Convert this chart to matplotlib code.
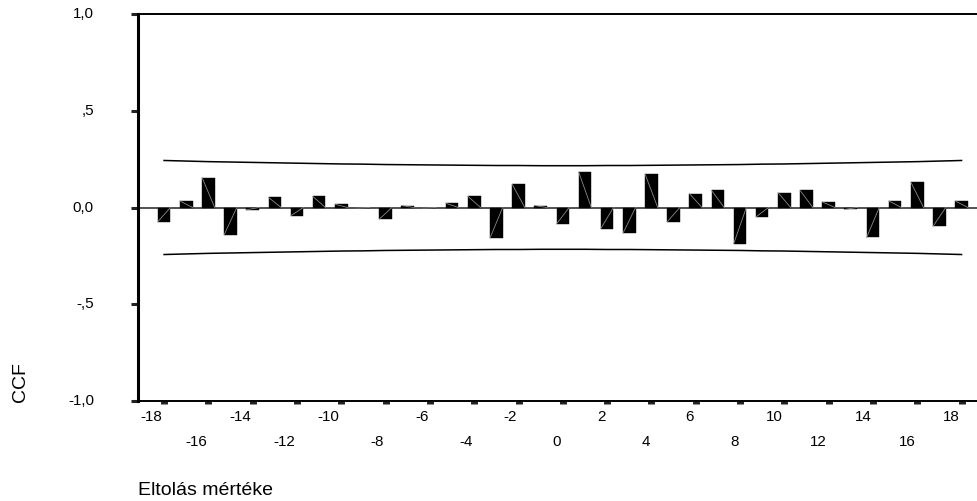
import matplotlib
matplotlib.use("Agg")
import matplotlib.pyplot as plt
import numpy as np

plt.rcParams['font.family'] = ['Liberation Sans', 'DejaVu Sans']

lags = list(range(-18, 19))
ccf = [-0.074, 0.034, 0.155, -0.140, -0.012, 0.052, -0.043, 0.057, 0.017, -0.003,
       -0.060, 0.010, -0.003, 0.022, 0.058, -0.157, 0.120, 0.010, -0.085, 0.184,
       -0.109, -0.133, 0.172, -0.073, 0.072, 0.088, -0.187, -0.049, 0.077, 0.088,
       0.029, -0.010, -0.155, 0.034, 0.130, -0.097, 0.034]
upper = [0.243, 0.240, 0.237, 0.235, 0.233, 0.231, 0.229, 0.227, 0.225, 0.224,
         0.222, 0.221, 0.220, 0.219, 0.218, 0.217, 0.217, 0.216, 0.216, 0.216,
         0.217, 0.217, 0.218, 0.219, 0.220, 0.221, 0.222, 0.224, 0.225, 0.227,
         0.229, 0.231, 0.233, 0.235, 0.237, 0.240, 0.243]
lower = [-u for u in upper]
xtick_vals = list(range(-18, 19, 2))
ytick_vals = [-1.0, -0.5, 0.0, 0.5, 1.0]
ytick_labels = ['-1,0', '-,5', '0,0', ',5', '1,0']

W, H = 978, 501
fig = plt.figure(figsize=(W / 100, H / 100), dpi=100)
ax = fig.add_axes([137.5 / W, 1 - 401 / H, (977.5 - 137.5) / W, (401 - 14) / H])

bw = 0.57
ax.bar(lags, ccf, width=bw, color='black', edgecolor='black', linewidth=0.3, zorder=3)
for x, v in zip(lags, ccf):
    ax.plot([x - bw / 2, x + bw / 2], [v, 0], color='#8a8a8a', lw=0.6, zorder=4)

ax.axhline(0, color='#444444', lw=1.3, zorder=2)
ax.plot(lags, upper, color='black', lw=1.1, zorder=3)
ax.plot(lags, lower, color='black', lw=1.1, zorder=3)

ax.set_xlim(-19.2, 18.72)
ax.set_ylim(-1, 1)

ax.spines['right'].set_visible(False)
ax.spines['left'].set_linewidth(2.2)
ax.spines['top'].set_linewidth(1.4)
ax.spines['bottom'].set_linewidth(1.4)

ax.set_xticks(xtick_vals)
ax.set_xticklabels([])
ax.tick_params(axis='x', direction='out', length=2.2, width=5, color='#222222')
ax.set_yticks(ytick_vals)
ax.set_yticklabels([])
ax.tick_params(axis='y', direction='out', length=5, width=2.2, color='#222222')

fs = 10.9
for i, v in enumerate(xtick_vals):
    ypix = 417 if i % 2 == 0 else 442
    fig.text((v + 18) * 22.15 / W + 162.5 / W, 1 - ypix / H, str(v), ha='right', va='center', fontsize=fs)

for v, lab in zip(ytick_vals, ytick_labels):
    ypix = 207.5 - v * 193.5
    fig.text(94 / W, 1 - ypix / H, lab, ha='right', va='center', fontsize=fs)

fig.text(21 / W, 1 - 382 / H, 'CCF', rotation=90, ha='center', va='center', fontsize=14)
fig.text(137.5 / W, 1 - 495 / H, 'Eltolás mértéke', ha='left', va='baseline', fontsize=14)

fig.savefig('out.png', dpi=100)
